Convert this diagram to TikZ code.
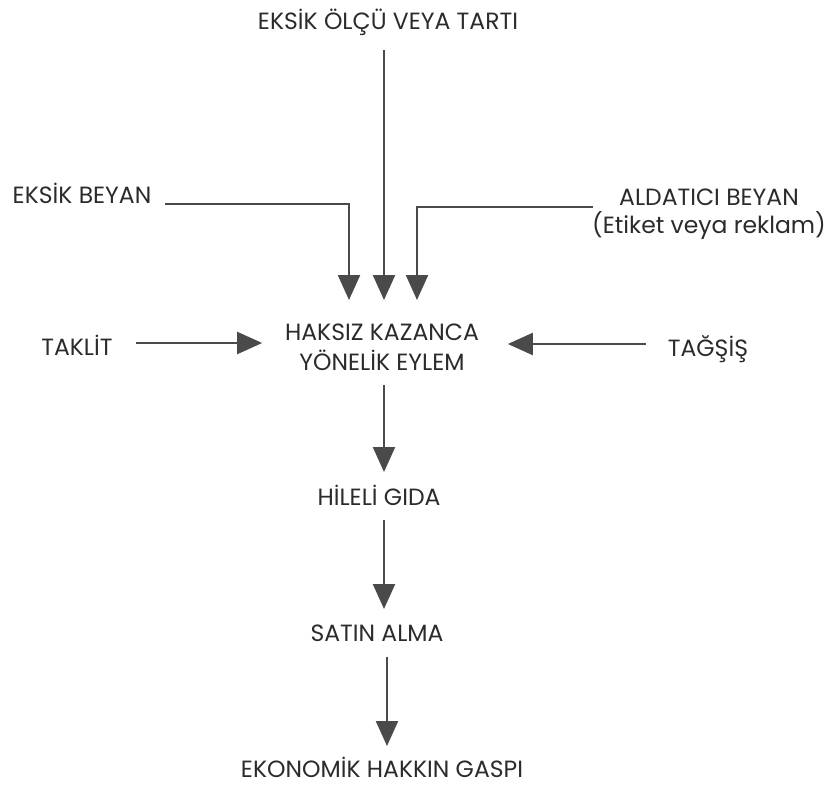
\documentclass[tikz,border=0pt]{standalone}
\usepackage{fontspec}
\setmainfont{Poppins}
\usetikzlibrary{arrows.meta,calc}
\definecolor{inkline}{HTML}{4A4A4A}
\definecolor{inktext}{HTML}{2B2B2B}
\begin{document}
\begin{tikzpicture}[x=1pt,y=-1pt,
  lbl/.style={inner sep=0pt, outer sep=0pt, text=inktext, font=\fontsize{23.5}{30}\selectfont, align=center, anchor=base},
  arr/.style={draw=inkline, line width=2.3pt,
    -{Triangle[length=25pt,width=22pt]}}]
  \useasboundingbox (0,0) rectangle (828,787);

  % labels, placed by the baseline of their last line
  \node[lbl] (top) at (388,29) {EKSİK ÖLÇÜ VEYA TARTI};
  \node[lbl] (eb)  at (82,203) {EKSİK BEYAN};
  \node[lbl, font=\fontsize{23.5}{28}\selectfont] (ab) at (709,233) {ALDATICI BEYAN\\(Etiket veya reklam)};
  \node[lbl] (tk)  at (77,355) {TAKLİT};
  \node[lbl] (tg)  at (708,356) {TAĞŞİŞ};
  \node[lbl] (hk)  at (382,370) {HAKSIZ KAZANCA\\YÖNELİK EYLEM};
  \node[lbl] (hg)  at (379,505) {HİLELİ GIDA};
  \node[lbl] (sa)  at (377,641) {SATIN ALMA};
  \node[lbl] (ek)  at (382,777) {EKONOMİK HAKKIN GASPI};

  % inputs converging on the central action
  \draw[arr] ($(top.base)+(-4,21)$) -- ($(hk.base)+(2,-70)$);
  \draw[arr] ($(eb.base east)+(14,1)$) -| ($(hk.base)+(-33,-70)$);
  \draw[arr] ($(ab.base west)+(1,-26)$) -| ($(hk.base)+(35,-70)$);
  \draw[arr] ($(tk.base east)+(23,-12)$) -- ($(tk.base east -| hk.west)+(-23,-12)$);
  \draw[arr] ($(tg.base west)+(-22,-12)$) -- ($(tg.base west -| hk.east)+(29,-12)$);

  % consequence chain
  \draw[arr] ($(hk.base)+(2,15)$) -- ($(hg.base)+(5,-33)$);
  \draw[arr] ($(hg.base)+(5,15)$) -- ($(sa.base)+(7,-32)$);
  \draw[arr] ($(sa.base)+(10,16)$) -- ($(ek.base)+(5,-31)$);
\end{tikzpicture}
\end{document}
